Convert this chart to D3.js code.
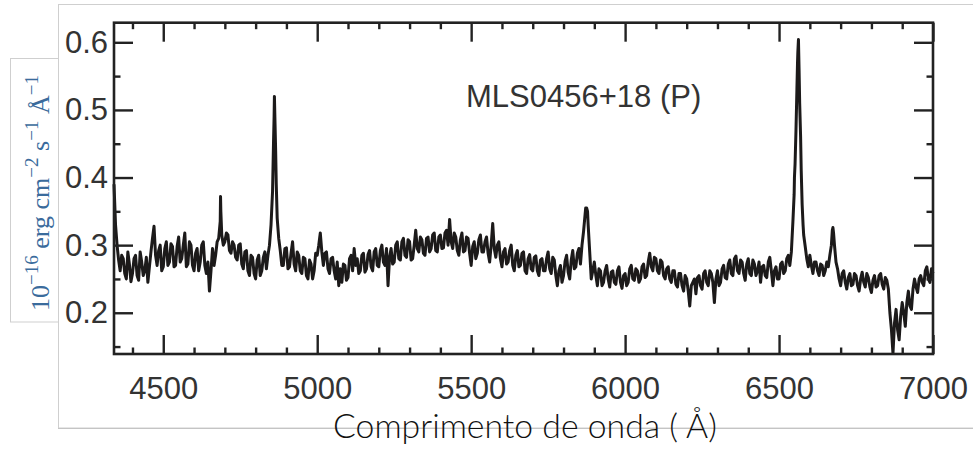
<!DOCTYPE html>
<html>
<head>
<meta charset="utf-8">
<script src="https://cdn.jsdelivr.net/npm/d3@7"></script>
<style>
  html, body { margin: 0; padding: 0; background: #fff; }
  svg { display: block; }
</style>
</head>
<body>
<svg id="chart" width="973" height="451"></svg>
<script>
// ---------------- DATA ----------------
const waveStart = 4340;          // first sample of the main grid (Å)
const waveStep = 10;             // main grid spacing (Å)
// flux (10^-16 erg cm^-2 s^-1 Å^-1) at 4340, 4350, ... 7000 Å
const flux = [
  0.390,0.300,0.262,0.280,0.250,0.272,0.258,0.285,0.248,0.275,
  0.262,0.245,0.290,0.328,0.270,0.300,0.268,0.305,0.275,0.298,
  0.270,0.312,0.280,0.318,0.272,0.300,0.262,0.295,0.275,0.305,
  0.258,0.232,0.295,0.285,0.310,0.315,0.305,0.315,0.288,0.300,
  0.278,0.302,0.265,0.292,0.255,0.282,0.250,0.285,0.262,0.290,
  0.285,0.330,0.490,0.340,0.292,0.270,0.296,0.268,0.305,0.262,
  0.285,0.258,0.280,0.250,0.272,0.262,0.285,0.318,0.270,0.290,
  0.258,0.282,0.250,0.240,0.245,0.270,0.252,0.285,0.295,0.280,
  0.262,0.288,0.265,0.292,0.262,0.295,0.268,0.300,0.270,0.240,
  0.295,0.275,0.305,0.278,0.310,0.282,0.305,0.280,0.322,0.290,
  0.308,0.285,0.312,0.295,0.318,0.290,0.315,0.296,0.322,0.338,
  0.295,0.312,0.285,0.318,0.292,0.310,0.270,0.305,0.288,0.315,
  0.290,0.312,0.275,0.332,0.282,0.305,0.268,0.295,0.275,0.300,
  0.262,0.292,0.270,0.290,0.258,0.286,0.262,0.284,0.255,0.280,
  0.262,0.290,0.258,0.278,0.240,0.270,0.255,0.285,0.250,0.292,
  0.268,0.295,0.300,0.345,0.330,0.250,0.275,0.240,0.262,0.245,
  0.270,0.238,0.262,0.242,0.268,0.236,0.258,0.245,0.270,0.248,
  0.262,0.250,0.272,0.255,0.288,0.262,0.280,0.258,0.275,0.250,
  0.268,0.245,0.262,0.238,0.258,0.232,0.250,0.210,0.245,0.228,
  0.255,0.235,0.262,0.240,0.258,0.215,0.262,0.245,0.270,0.250,
  0.278,0.255,0.284,0.258,0.275,0.248,0.280,0.255,0.272,0.262,
  0.245,0.270,0.252,0.282,0.240,0.268,0.250,0.275,0.262,0.285,
  0.290,0.400,0.570,0.460,0.315,0.280,0.285,0.258,0.275,0.255,
  0.270,0.262,0.268,0.300,0.300,0.265,0.240,0.262,0.235,0.258,
  0.242,0.255,0.232,0.260,0.238,0.252,0.230,0.255,0.240,0.258,
  0.235,0.248,0.200,0.140,0.205,0.160,0.215,0.180,0.232,0.205,
  0.250,0.230,0.255,0.240,0.268,0.245,0.258
];
// flux at the in-between samples 4345, 4355, ... 6995 Å
const fluxMid = [
  0.330,0.278,0.285,0.258,0.290,0.246,0.280,0.255,0.290,0.255,
  0.282,0.268,0.310,0.285,0.292,0.262,0.295,0.270,0.302,0.268,
  0.298,0.275,0.300,0.268,0.305,0.270,0.288,0.262,0.300,0.270,
  0.275,0.262,0.270,0.305,0.335,0.300,0.318,0.292,0.305,0.282,
  0.300,0.272,0.290,0.262,0.285,0.258,0.278,0.255,0.282,0.265,
  0.300,0.380,0.440,0.310,0.270,0.295,0.265,0.288,0.272,0.290,
  0.262,0.282,0.255,0.278,0.250,0.288,0.300,0.290,0.288,0.265,
  0.280,0.262,0.275,0.265,0.272,0.248,0.280,0.262,0.270,0.258,
  0.285,0.260,0.286,0.268,0.290,0.270,0.292,0.275,0.295,0.282,
  0.272,0.300,0.280,0.305,0.285,0.308,0.278,0.300,0.295,0.312,
  0.288,0.310,0.290,0.315,0.292,0.312,0.295,0.318,0.300,0.305,
  0.318,0.292,0.308,0.290,0.312,0.288,0.298,0.280,0.308,0.290,
  0.305,0.288,0.300,0.295,0.300,0.280,0.290,0.272,0.292,0.270,
  0.285,0.268,0.288,0.262,0.280,0.265,0.282,0.262,0.278,0.262,
  0.280,0.265,0.282,0.255,0.262,0.245,0.276,0.260,0.278,0.265,
  0.288,0.272,0.320,0.355,0.290,0.262,0.255,0.265,0.240,0.262,
  0.250,0.260,0.245,0.262,0.245,0.255,0.240,0.265,0.250,0.265,
  0.245,0.268,0.252,0.275,0.268,0.282,0.262,0.278,0.255,0.265,
  0.250,0.262,0.242,0.258,0.240,0.255,0.232,0.240,0.250,0.252,
  0.240,0.258,0.245,0.262,0.245,0.250,0.240,0.265,0.252,0.272,
  0.258,0.280,0.262,0.278,0.258,0.272,0.258,0.278,0.255,0.275,
  0.268,0.255,0.275,0.262,0.262,0.250,0.272,0.258,0.280,0.270,
  0.335,0.470,0.560,0.360,0.298,0.268,0.270,0.275,0.262,0.272,
  0.255,0.275,0.285,0.326,0.275,0.250,0.258,0.245,0.252,0.240,
  0.258,0.240,0.250,0.245,0.258,0.238,0.248,0.238,0.255,0.242,
  0.252,0.235,0.175,0.185,0.175,0.195,0.200,0.215,0.210,0.235,
  0.238,0.250,0.245,0.262,0.250,0.265
];
// extra samples resolving the narrow emission-line peaks
const lineWave = [4686, 4687,
  4858, 4861, 4863, 4867,
  5872, 5878,
  6549, 6552, 6558, 6561, 6563, 6567, 6572, 6578,
  6673, 6677];
const lineFlux = [0.372, 0.350,
  0.450, 0.520, 0.480, 0.390,
  0.355, 0.350,
  0.375, 0.420, 0.530, 0.585, 0.604, 0.510, 0.410, 0.330,
  0.322, 0.318];

const xMajor = [4500, 5000, 5500, 6000, 6500, 7000];
const xMinor = [4400, 4600, 4700, 4800, 4900, 5100, 5200, 5300, 5400, 5600, 5700, 5800, 5900,
                6100, 6200, 6300, 6400, 6600, 6700, 6800, 6900];
const yMajor = [0.2, 0.3, 0.4, 0.5, 0.6];
const yMinor = [0.15, 0.25, 0.35, 0.45, 0.55];

const titleText = "MLS0456+18 (P)";
const xTitle = "Comprimento de onda ( Å)";

// ---------------- LAYOUT ----------------
const L = 114, R = 933, T = 22.7, B = 354;
const svg = d3.select("#chart");

const x = d3.scaleLinear().domain([4340, 7000]).range([L, R]);
const y = d3.scaleLinear().domain([0.139, 0.629]).range([B, T]);

// background frames (light gray)
svg.append("rect").attr("x", 58.5).attr("y", 4.5).attr("width", 930).attr("height", 423.5)
  .attr("fill", "#fff").attr("stroke", "#cfcfcf").attr("stroke-width", 1);
svg.append("rect").attr("x", 10.5).attr("y", 58.5).attr("width", 48).attr("height", 263.5)
  .attr("fill", "#fff").attr("stroke", "#cfcfcf").attr("stroke-width", 1);

// spectrum
const pts = flux.map((f, i) => [waveStart + i * waveStep, f])
  .concat(fluxMid.map((f, i) => [waveStart + waveStep / 2 + i * waveStep, f]))
  .concat(lineWave.map((w, i) => [w, lineFlux[i]]))
  .sort((a, b) => a[0] - b[0]);

svg.append("path")
  .datum(pts)
  .attr("fill", "none")
  .attr("stroke", "#1c1a1a")
  .attr("stroke-width", 3)
  .attr("stroke-linejoin", "round")
  .attr("d", d3.line().x(d => x(d[0])).y(d => y(d[1])));

// axes
const tickCol = "#222";
function styleAxis(g) {
  g.select(".domain").remove();
  g.selectAll(".tick line").attr("stroke", tickCol).attr("stroke-width", 2.4);
  g.selectAll(".tick text").attr("fill", "#333")
    .style("font-family", "'Liberation Sans', Arial, Helvetica, sans-serif")
    .style("font-size", "31px");
}
svg.append("g").attr("transform", `translate(0,${B})`)
  .call(d3.axisBottom(x).tickValues(xMajor).tickSize(-19).tickPadding(23).tickFormat(d3.format("d")))
  .call(styleAxis);
svg.append("g").attr("transform", `translate(0,${B})`)
  .call(d3.axisBottom(x).tickValues(xMinor).tickSize(-6.5).tickFormat(""))
  .call(styleAxis);
svg.append("g").attr("transform", `translate(0,${T})`)
  .call(d3.axisTop(x).tickValues(xMajor).tickSize(-19).tickFormat(""))
  .call(styleAxis);
svg.append("g").attr("transform", `translate(0,${T})`)
  .call(d3.axisTop(x).tickValues(xMinor).tickSize(-6.5).tickFormat(""))
  .call(styleAxis);
svg.append("g").attr("transform", `translate(${L},0)`)
  .call(d3.axisLeft(y).tickValues(yMajor).tickSize(-19).tickPadding(6).tickFormat(d3.format(".1f")))
  .call(styleAxis);
svg.append("g").attr("transform", `translate(${L},0)`)
  .call(d3.axisLeft(y).tickValues(yMinor).tickSize(-6.5).tickFormat(""))
  .call(styleAxis);
svg.append("g").attr("transform", `translate(${R},0)`)
  .call(d3.axisRight(y).tickValues(yMajor).tickSize(-19).tickFormat(""))
  .call(styleAxis);
svg.append("g").attr("transform", `translate(${R},0)`)
  .call(d3.axisRight(y).tickValues(yMinor).tickSize(-6.5).tickFormat(""))
  .call(styleAxis);

// plot frame
svg.append("rect").attr("x", L).attr("y", T).attr("width", R - L).attr("height", B - T)
  .attr("fill", "none").attr("stroke", tickCol).attr("stroke-width", 2.6);

// title inside plot
svg.append("text").attr("x", 466).attr("y", 107)
  .attr("fill", "#333")
  .style("font-family", "'Liberation Sans', Arial, Helvetica, sans-serif")
  .style("font-size", "31px")
  .text(titleText);

// gray line crossing the x title
svg.append("line").attr("x1", 58).attr("x2", 973).attr("y1", 428.5).attr("y2", 428.5)
  .attr("stroke", "#c4c4c4").attr("stroke-width", 1);

// x axis title
const xt = svg.append("text").attr("x", 525).attr("y", 438)
  .attr("text-anchor", "middle")
  .attr("fill", "#111")
  .style("font-family", "Lato, 'Open Sans', sans-serif")
  .style("font-weight", "300")
  .style("font-size", "28px")
  .text(xTitle);
const len = xt.node().getComputedTextLength();
if (len > 0) xt.style("font-size", (28 * 384 / len).toFixed(2) + "px");

// y axis title (rotated, serif, blue)
const yt = svg.append("text")
  .attr("transform", "translate(49,193) rotate(-90)")
  .attr("text-anchor", "middle")
  .attr("fill", "#3a6b9c")
  .style("font-family", "'Liberation Serif', 'DejaVu Serif', serif")
  .style("font-size", "26px");
const parts = [
  ["10", 0], ["\u221216", 1], [" erg cm", 0], ["\u22122", 1], [" s", 0], ["\u22121", 1], [" \u00C5", 0], ["\u22121", 1]
];
let prevSup = 0;
parts.forEach(([t, sup]) => {
  const shift = (sup - prevSup) * -11;
  yt.append("tspan").attr("dy", shift).style("font-size", sup ? "19px" : "26px").text(t);
  prevSup = sup;
});
</script>
</body>
</html>
